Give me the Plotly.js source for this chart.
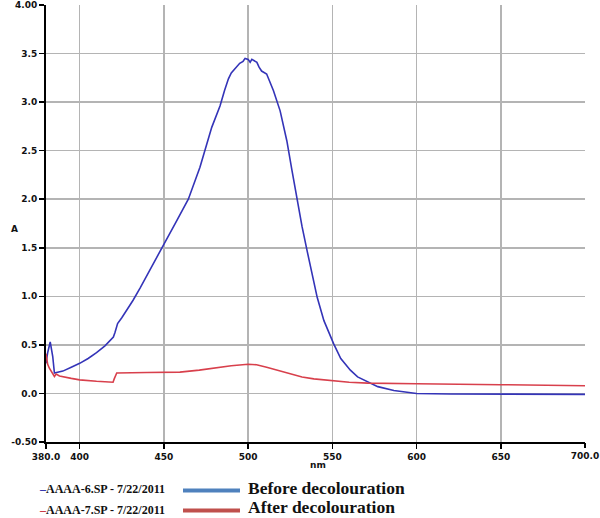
<!DOCTYPE html>
<html>
<head>
<meta charset="utf-8">
<script src="https://cdn.plot.ly/plotly-3.0.1.min.js"></script>
<style>html,body{margin:0;padding:0;background:#fff;}#chart{width:600px;height:518px;}</style>
</head>
<body>
<div id="chart"></div>
<script>
// Wavelengths (nm) and absorbance for the "before" spectrum
var beforeNm = [380, 381, 382.5, 384, 385, 390, 395, 400, 405, 410, 415, 420, 421, 422.5, 425, 431.7, 436, 441.7, 450.5, 457, 464.5, 471.4, 478.4, 483.3, 486, 488.3, 490, 493.3, 495, 497, 498.2, 500, 501.2, 502.2, 503.2, 505.2, 506.5, 508, 511, 515, 519, 523, 526, 529, 532, 535, 538, 541, 545, 550.8, 555, 560.7, 565, 570.7, 577, 586.5, 600, 620, 650, 680, 700];
var beforeA  = [0.31, 0.42, 0.53, 0.38, 0.21, 0.23, 0.27, 0.31, 0.36, 0.42, 0.49, 0.58, 0.63, 0.72, 0.78, 0.96, 1.09, 1.27, 1.54, 1.76, 2.0, 2.33, 2.74, 2.96, 3.12, 3.24, 3.3, 3.37, 3.4, 3.42, 3.45, 3.44, 3.41, 3.44, 3.43, 3.41, 3.36, 3.32, 3.29, 3.12, 2.91, 2.6, 2.3, 1.99, 1.72, 1.47, 1.22, 0.99, 0.75, 0.51, 0.36, 0.24, 0.17, 0.12, 0.07, 0.03, 0.0, -0.005, -0.008, -0.008, -0.01];

// Wavelengths (nm) and absorbance for the "after" spectrum
var afterNm = [380, 381, 382, 384, 385, 386, 388, 395, 400, 410, 419.8, 420.5, 422, 440, 459.5, 471, 479, 490, 500, 505, 511, 518, 525, 532, 539, 551, 560, 571, 585, 600, 650, 700];
var afterA  = [0.41, 0.3, 0.26, 0.2, 0.175, 0.2, 0.18, 0.155, 0.14, 0.125, 0.116, 0.15, 0.21, 0.215, 0.22, 0.24, 0.26, 0.285, 0.30, 0.295, 0.27, 0.235, 0.20, 0.17, 0.15, 0.127, 0.115, 0.106, 0.10, 0.10, 0.09, 0.08];

// x ticks with grid lines (700 has a tick but no grid line)
var xGridTickVals = [380, 400, 450, 500, 550, 600, 650];
var xGridTickText = ['380.0', '400', '450', '500', '550', '600', '650'];
var xEdgeTickVals = [700];
var xEdgeTickText = ['700.0'];
var yTickVals = [-0.5, 0, 0.5, 1.0, 1.5, 2.0, 2.5, 3.0, 3.5, 4.0];
var yTickText = ['-0.50', '0.0', '0.5', '1.0', '1.5', '2.0', '2.5', '3.0', '3.5', '4.00'];

var seriesNames = ['AAAA-6.SP - 7/22/2011', 'AAAA-7.SP - 7/22/2011'];
var legendLabels = ['Before decolouration', 'After decolouration'];

// layout geometry (pixels)
var W = 600, H = 518;
var M = {l: 46, r: 15, t: 5, b: 76};
var PW = W - M.l - M.r, PH = H - M.t - M.b;
function px(x) { return (x - M.l) / PW; }
function py(y) { return (H - M.b - y) / PH; }

var traces = [
  {x: beforeNm, y: beforeA, type: 'scatter', mode: 'lines', line: {color: '#3434b8', width: 1.6}, hoverinfo: 'skip'},
  {x: afterNm, y: afterA, type: 'scatter', mode: 'lines', line: {color: '#d8404c', width: 1.6}, hoverinfo: 'skip'},
  {x: [700], y: [null], xaxis: 'x2', yaxis: 'y', type: 'scatter', mode: 'lines', hoverinfo: 'skip', showlegend: false}
];

var smallFont = {family: 'Liberation Serif, serif', size: 12, color: '#111', weight: 'bold'};
var bigFont = {family: 'Liberation Serif, serif', size: 17.5, color: '#111', weight: 'bold'};
var smallRowY = [489, 510];
var bigRowY = [487.5, 507];
var sampleRowY = [490.5, 510.5];
var sampleColors = ['#4f81bd', '#c0504d'];
var dashColors = ['#2a2aa8', '#c8303c'];

var annotations = [
  {xref: 'paper', yref: 'paper', x: px(14), y: py(229), text: 'A', showarrow: false, xanchor: 'center', yanchor: 'middle',
   font: {family: 'DejaVu Sans, sans-serif', size: 9, color: '#111', weight: 'bold'}},
  {xref: 'paper', yref: 'paper', x: px(318), y: py(465), text: 'nm', showarrow: false, xanchor: 'center', yanchor: 'middle',
   font: {family: 'DejaVu Sans, sans-serif', size: 9, color: '#111', weight: 'bold'}}
];
var shapes = [];
for (var i = 0; i < 2; i++) {
  annotations.push({xref: 'paper', yref: 'paper', x: px(37), y: py(smallRowY[i]), xanchor: 'left', yanchor: 'middle', showarrow: false,
    text: '<span style="color:' + dashColors[i] + '">–</span>' + seriesNames[i], font: smallFont});
  annotations.push({xref: 'paper', yref: 'paper', x: px(247), y: py(bigRowY[i]), xanchor: 'left', yanchor: 'middle', showarrow: false,
    borderpad: 0, text: legendLabels[i], font: bigFont});
  shapes.push({type: 'line', xref: 'paper', yref: 'paper', x0: px(183), x1: px(240), y0: py(sampleRowY[i]), y1: py(sampleRowY[i]),
    line: {color: sampleColors[i], width: 4}});
}

var tickFont = {family: 'DejaVu Sans, sans-serif', size: 9, color: '#111', weight: 'bold'};

var layout = {
  width: W, height: H,
  margin: M,
  paper_bgcolor: '#fff', plot_bgcolor: '#fff',
  showlegend: false,
  xaxis: {range: [380, 700], tickmode: 'array', tickvals: xGridTickVals, ticktext: xGridTickText,
    showgrid: true, gridcolor: '#b4b4b4', gridwidth: 1.5, zeroline: false,
    showline: true, linecolor: '#000', linewidth: 2, ticks: 'outside', ticklen: 5, tickwidth: 1.5, tickcolor: '#000',
    tickfont: tickFont},
  xaxis2: {range: [380, 700], overlaying: 'x', anchor: 'y', side: 'bottom', tickmode: 'array', tickvals: xEdgeTickVals, ticktext: xEdgeTickText,
    showgrid: false, zeroline: false, showline: false, ticks: 'outside', ticklen: 5, tickwidth: 1.5, tickcolor: '#000',
    tickfont: tickFont},
  yaxis: {range: [-0.5, 4.0], tickmode: 'array', tickvals: yTickVals, ticktext: yTickText,
    showgrid: true, gridcolor: '#b4b4b4', gridwidth: 1.5, zeroline: false,
    showline: true, linecolor: '#000', linewidth: 2, ticks: 'outside', ticklen: 5, tickwidth: 1.5, tickcolor: '#000',
    tickfont: tickFont},
  annotations: annotations,
  shapes: shapes
};

Plotly.newPlot('chart', traces, layout, {displayModeBar: false, staticPlot: true});
</script>
</body>
</html>
